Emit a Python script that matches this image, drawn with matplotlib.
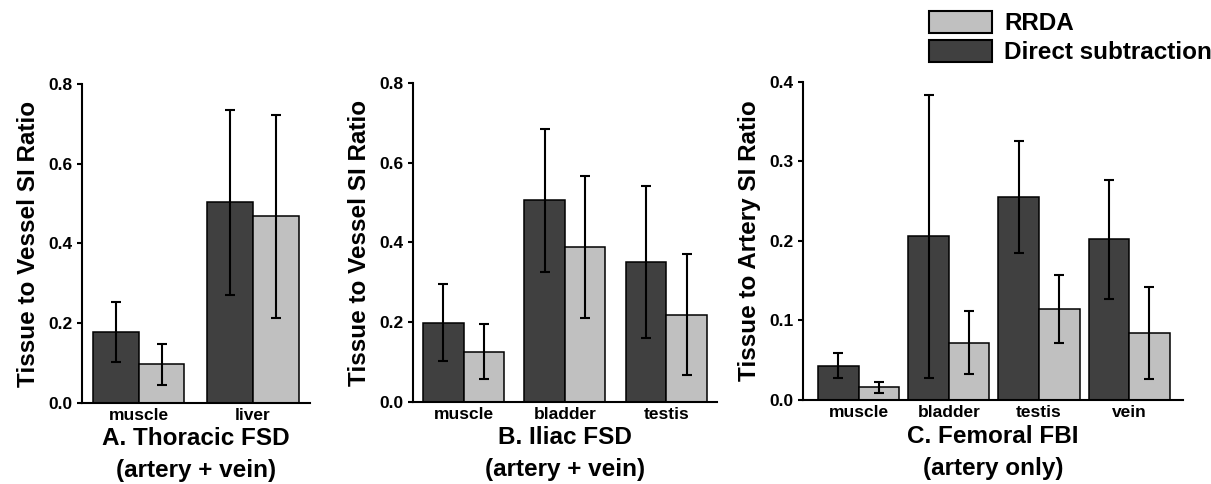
import numpy as np
import matplotlib
matplotlib.use('Agg')
import matplotlib.pyplot as plt
from matplotlib.patches import Patch

plt.rcParams['font.family'] = ['Liberation Sans', 'DejaVu Sans']
plt.rcParams['font.weight'] = 'bold'

# Panel A: Thoracic FSD
a_cats = ['muscle', 'liver']
a_direct = [0.177, 0.503]
a_direct_err = [0.076, 0.232]
a_rrda = [0.096, 0.468]
a_rrda_err = [0.051, 0.255]

# Panel B: Iliac FSD
b_cats = ['muscle', 'bladder', 'testis']
b_direct = [0.199, 0.506, 0.352]
b_direct_err = [0.096, 0.179, 0.191]
b_rrda = [0.126, 0.388, 0.219]
b_rrda_err = [0.068, 0.178, 0.151]

# Panel C: Femoral FBI
c_cats = ['muscle', 'bladder', 'testis', 'vein']
c_direct = [0.043, 0.206, 0.255, 0.202]
c_direct_err = [0.016, 0.178, 0.070, 0.075]
c_rrda = [0.0155, 0.072, 0.114, 0.084]
c_rrda_err = [0.007, 0.040, 0.043, 0.058]

DARK = '#404040'
LIGHT = '#c0c0c0'

fig = plt.figure(figsize=(12.11, 4.84), dpi=100)

panels = [
    ([0.0675, 0.168, 0.1885, 0.658], a_cats, a_direct, a_direct_err, a_rrda, a_rrda_err,
     0.4, (-0.5, 1.5), (0, 0.8), [0, 0.2, 0.4, 0.6, 0.8],
     'Tissue to Vessel SI Ratio', 'A. Thoracic FSD\n(artery + vein)'),
    ([0.341, 0.170, 0.251, 0.658], b_cats, b_direct, b_direct_err, b_rrda, b_rrda_err,
     0.4, (-0.5, 2.5), (0, 0.8), [0, 0.2, 0.4, 0.6, 0.8],
     'Tissue to Vessel SI Ratio', 'B. Iliac FSD\n(artery + vein)'),
    ([0.663, 0.174, 0.314, 0.657], c_cats, c_direct, c_direct_err, c_rrda, c_rrda_err,
     0.45, (-0.62, 3.6), (0, 0.4), [0, 0.1, 0.2, 0.3, 0.4],
     'Tissue to Artery SI Ratio', 'C. Femoral FBI\n(artery only)'),
]

for rect, cats, d, de, r, re_, w, xl, yl, yt, ylab, xlab in panels:
    ax = fig.add_axes(rect)
    x = np.arange(len(cats))
    ax.bar(x - w / 2, d, w, color=DARK, edgecolor='black', linewidth=1.1, zorder=2)
    ax.bar(x + w / 2, r, w, color=LIGHT, edgecolor='black', linewidth=1.1, zorder=2)
    ax.errorbar(x - w / 2, d, yerr=de, fmt='none', ecolor='black', elinewidth=1.5,
                capsize=3.5, capthick=1.5, zorder=3)
    ax.errorbar(x + w / 2, r, yerr=re_, fmt='none', ecolor='black', elinewidth=1.5,
                capsize=3.5, capthick=1.5, zorder=3)
    ax.set_xlim(*xl)
    ax.set_ylim(*yl)
    ax.set_yticks(yt)
    ax.set_yticklabels(['%.1f' % v for v in yt])
    ax.set_xticks(x)
    ax.set_xticklabels(cats)
    ax.tick_params(axis='x', length=0, pad=4, labelsize=12.5)
    ax.tick_params(axis='y', length=3.5, width=1.5, pad=3, labelsize=12.5)
    for s in ['top', 'right']:
        ax.spines[s].set_visible(False)
    for s in ['left', 'bottom']:
        ax.spines[s].set_linewidth(1.5)
    ax.set_ylabel(ylab, fontsize=17.5, fontweight='bold', labelpad=6)
    ax.set_xlabel(xlab, fontsize=17.5, fontweight='bold', labelpad=3, linespacing=1.5)

handles = [Patch(facecolor=LIGHT, edgecolor='black', linewidth=1.5, label='RRDA'),
           Patch(facecolor=DARK, edgecolor='black', linewidth=1.5, label='Direct subtraction')]
fig.legend(handles=handles, loc='upper left', bbox_to_anchor=(0.767, 0.977),
           frameon=False, fontsize=17.5, handlelength=2.6, handleheight=1.0,
           handletextpad=0.5, labelspacing=0.2, borderpad=0, borderaxespad=0)

fig.savefig('out.png', dpi=100)
